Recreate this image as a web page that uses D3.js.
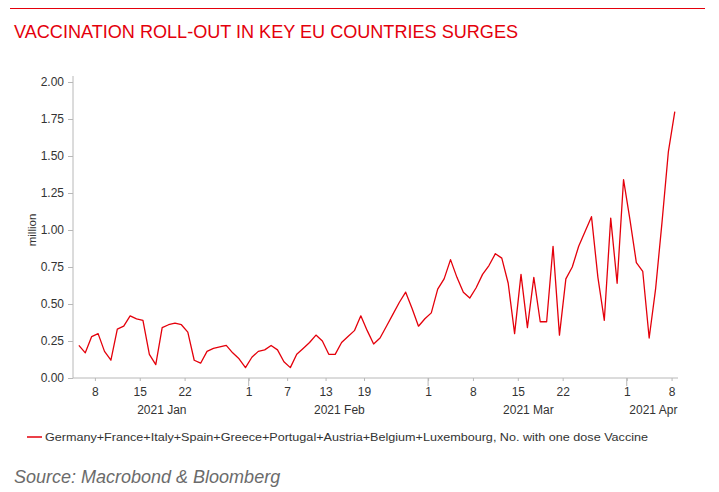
<!DOCTYPE html>
<html>
<head>
<meta charset="utf-8">
<script src="https://cdn.jsdelivr.net/npm/d3@7"></script>
<style>
  html, body { margin: 0; padding: 0; background: #fff; }
  svg { display: block; font-family: "Liberation Sans", Arial, sans-serif; }
</style>
</head>
<body>
<svg id="chart" width="719" height="492"></svg>
<script>
// ---- data ----
const title = "VACCINATION ROLL-OUT IN KEY EU COUNTRIES SURGES";
const seriesName = "Germany+France+Italy+Spain+Greece+Portugal+Austria+Belgium+Luxembourg, No. with one dose Vaccine";
const sourceText = "Source: Macrobond & Bloomberg";
const yLabel = "million";
const startDate = "2021-01-05"; // first daily observation
const values = [
  0.22, 0.17, 0.28, 0.30, 0.18, 0.12, 0.33, 0.35, 0.42, 0.40,
  0.39, 0.16, 0.09, 0.34, 0.36, 0.37, 0.36, 0.31, 0.12, 0.10,
  0.18, 0.20, 0.21, 0.22, 0.17, 0.13, 0.07, 0.14, 0.18, 0.19,
  0.22, 0.19, 0.11, 0.07, 0.16, 0.20, 0.24, 0.29, 0.25, 0.16,
  0.16, 0.24, 0.28, 0.32, 0.42, 0.32, 0.23, 0.27, 0.35, 0.43,
  0.51, 0.58, 0.47, 0.35, 0.40, 0.44, 0.60, 0.67, 0.80, 0.68,
  0.58, 0.54, 0.61, 0.70, 0.76, 0.84, 0.81, 0.64, 0.30, 0.70,
  0.34, 0.68, 0.38, 0.38, 0.89, 0.29, 0.67, 0.75, 0.89, 0.99,
  1.09, 0.68, 0.39, 1.08, 0.64, 1.34, 1.07, 0.78, 0.72, 0.27,
  0.60, 1.05, 1.53, 1.80
];
const yTicks = [0, 0.25, 0.5, 0.75, 1.0, 1.25, 1.5, 1.75, 2.0];
const xTickDates = ["2021-01-08","2021-01-15","2021-01-22","2021-02-01","2021-02-07","2021-02-13","2021-02-19",
                    "2021-03-01","2021-03-08","2021-03-15","2021-03-22","2021-04-01","2021-04-08"];
const monthStarts = ["2021-02-01","2021-03-01","2021-04-01"];
const monthLabels = ["2021 Jan","2021 Feb","2021 Mar","2021 Apr"];

// ---- setup ----
const parse = d3.timeParse("%Y-%m-%d");
const t0 = parse(startDate);
const data = values.map((v, i) => ({ date: d3.timeHour.offset(d3.timeDay.offset(t0, i), 12), value: v }));

const svg = d3.select("#chart");
const red = "#e4000b";
const axisGrey = "#b8b8b8";
const textCol = "#333333";

const plotLeft = 73, plotRight = 678, plotTop = 82, plotBottom = 378;
const x = d3.scaleTime()
  .domain([d3.timeHour.offset(parse("2021-01-04"), 14), parse("2021-04-09")])
  .range([plotLeft, plotRight]);
const y = d3.scaleLinear().domain([0, 2]).range([plotBottom, plotTop]);

// top rule
svg.append("line").attr("x1", 10).attr("x2", 705).attr("y1", 8.5).attr("y2", 8.5)
  .attr("stroke", red).attr("stroke-width", 1.2);

// title
svg.append("text").attr("x", 14).attr("y", 38)
  .attr("fill", red).attr("font-size", 18)
  .attr("textLength", 504).attr("lengthAdjust", "spacingAndGlyphs")
  .text(title);

// y axis
const yAxis = d3.axisLeft(y).tickValues(yTicks).tickFormat(d3.format(".2f")).tickSize(5).tickPadding(4);
const gy = svg.append("g").attr("transform", `translate(${plotLeft},0)`).call(yAxis);
gy.select(".domain").attr("stroke", axisGrey).attr("d", `M-0,${plotTop - 6}V${plotBottom}`);
gy.selectAll(".tick line").attr("stroke", axisGrey);
gy.selectAll(".tick text").attr("fill", textCol).attr("font-size", 12).attr("font-family", "Liberation Sans, Arial, sans-serif");

svg.append("text")
  .attr("transform", `translate(36,${(plotTop + plotBottom) / 2}) rotate(-90)`)
  .attr("text-anchor", "middle").attr("fill", textCol).attr("font-size", 11.5)
  .text(yLabel);

// x axis
const xDates = xTickDates.map(parse);
const xAxis = d3.axisBottom(x).tickValues(xDates).tickFormat(d3.timeFormat("%-d")).tickSize(3).tickPadding(6);
const gx = svg.append("g").attr("transform", `translate(0,${plotBottom})`).call(xAxis);
gx.select(".domain").attr("stroke", axisGrey).attr("d", `M${plotLeft},0H${plotRight}`);
gx.selectAll(".tick line").attr("stroke", axisGrey);
gx.selectAll(".tick text").attr("fill", textCol).attr("font-size", 12).attr("font-family", "Liberation Sans, Arial, sans-serif");
// longer month ticks
svg.append("g").selectAll("line").data(monthStarts.map(parse)).join("line")
  .attr("x1", d => x(d)).attr("x2", d => x(d))
  .attr("y1", plotBottom).attr("y2", plotBottom + 8)
  .attr("stroke", axisGrey);

// month labels centered in each month span
const bounds = [x.domain()[0], ...monthStarts.map(parse), x.domain()[1]];
svg.append("g").selectAll("text").data(monthLabels).join("text")
  .attr("x", (d, i) => (x(bounds[i]) + x(bounds[i + 1])) / 2 + (i === 3 ? 1 : 1))
  .attr("y", 414)
  .attr("text-anchor", "middle").attr("fill", textCol).attr("font-size", 12)
  .text(d => d);

// line
const line = d3.line().x(d => x(d.date)).y(d => y(d.value));
svg.append("path").datum(data)
  .attr("fill", "none").attr("stroke", red).attr("stroke-width", 1.3)
  .attr("stroke-linejoin", "round")
  .attr("d", line);

// legend
svg.append("line").attr("x1", 27).attr("x2", 42).attr("y1", 437).attr("y2", 437)
  .attr("stroke", red).attr("stroke-width", 1.5);
svg.append("text").attr("x", 45).attr("y", 441)
  .attr("fill", textCol).attr("font-size", 11.5)
  .attr("textLength", 603).attr("lengthAdjust", "spacingAndGlyphs")
  .text(seriesName);

// source
svg.append("text").attr("x", 14).attr("y", 483)
  .attr("fill", "#6b6b6b").attr("font-size", 18).attr("font-style", "italic")
  .text(sourceText);
</script>
</body>
</html>
